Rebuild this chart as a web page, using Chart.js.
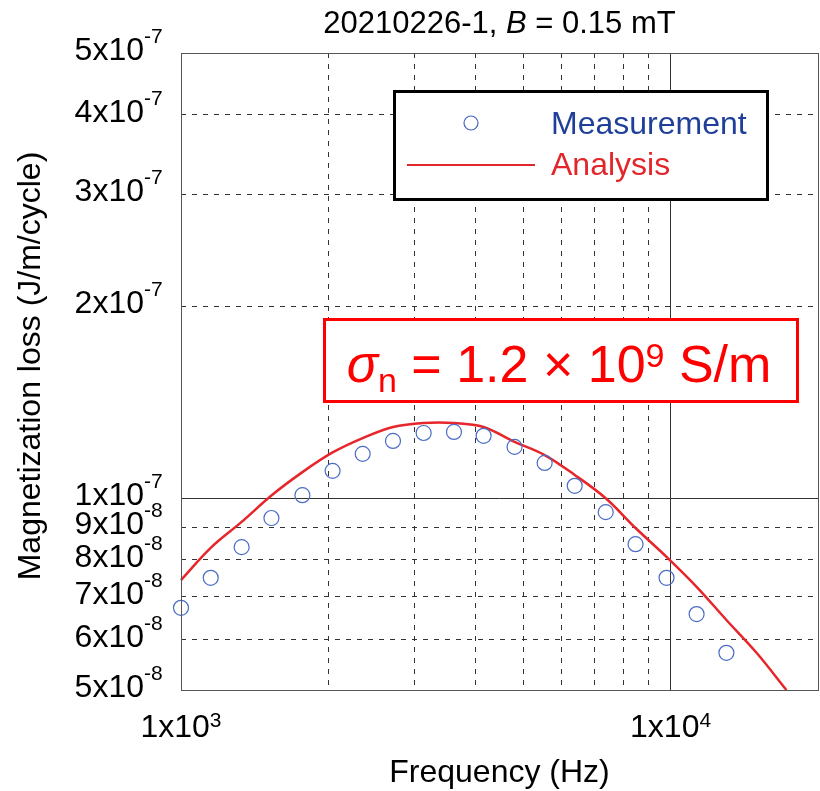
<!DOCTYPE html>
<html>
<head>
<meta charset="utf-8">
<script src="https://cdn.jsdelivr.net/npm/chart.js@4.4.1/dist/chart.umd.min.js"></script>
<style>
  html, body { margin: 0; padding: 0; background: #fff; overflow: hidden; }
  #wrap { width: 820px; height: 791px; }
  canvas { display: block; }
</style>
</head>
<body>
<div id="wrap"><canvas id="lossChart" width="820" height="791"></canvas></div>
<script>
// measured points (Hz, J/m/cycle)
const freqMeas = [1000, 1150, 1330, 1530, 1770, 2040, 2350, 2710, 3130, 3610, 4150, 4800, 5530, 6370, 7370, 8480, 9810, 11300, 13000];
const lossMeas = [6.73e-8, 7.50e-8, 8.38e-8, 9.31e-8, 1.011e-7, 1.104e-7, 1.174e-7, 1.230e-7, 1.266e-7, 1.271e-7, 1.253e-7, 1.204e-7, 1.136e-7, 1.046e-7, 9.51e-8, 8.47e-8, 7.50e-8, 6.58e-8, 5.72e-8];

// analysis curve
const freqAna = [1000, 1150, 1330, 1530, 1770, 2040, 2350, 2710, 3130, 3610, 4150, 4800, 5530, 6370, 7370, 8480, 9810, 11300, 13000, 14980, 17240];
const lossAna = [7.44e-8, 8.36e-8, 9.18e-8, 1.010e-7, 1.099e-7, 1.180e-7, 1.243e-7, 1.294e-7, 1.313e-7, 1.313e-7, 1.294e-7, 1.226e-7, 1.169e-7, 1.088e-7, 1.000e-7, 8.98e-8, 8.09e-8, 7.26e-8, 6.44e-8, 5.72e-8, 5.0e-8];

const xGrid = [1000, 2000, 3000, 4000, 5000, 6000, 7000, 8000, 9000, 10000, 20000];
const yGrid = [5e-8, 6e-8, 7e-8, 8e-8, 9e-8, 1e-7, 2e-7, 3e-7, 4e-7, 5e-7];
const xLabels = [1000, 10000];
const yLabels = [5e-8, 6e-8, 7e-8, 8e-8, 9e-8, 1e-7, 2e-7, 3e-7, 4e-7, 5e-7];

const FONT = '"Liberation Sans", Arial, sans-serif';
const isDecade = (v) => Math.abs(Math.log10(v) - Math.round(Math.log10(v))) < 1e-6;

// "5x10" + "-7"
const expParts = (v) => {
  const e = Math.floor(Math.log10(v) + 1e-9);
  const m = Math.round(v / Math.pow(10, e));
  return [m + "x10", String(e)];
};

// draw a row of text pieces with their own font and vertical shift
const drawRuns = (ctx, runs, x, y, align) => {
  let total = 0;
  runs.forEach((r) => { ctx.font = r.font; r.w = ctx.measureText(r.text).width; total += r.w; });
  let cx = align === "center" ? x - total / 2 : align === "right" ? x - total : x;
  ctx.textAlign = "left";
  runs.forEach((r) => {
    ctx.font = r.font;
    ctx.fillText(r.text, cx, y + (r.dy || 0));
    cx += r.w;
  });
};

const decorations = {
  id: "decorations",
  afterDraw(chart) {
    const ctx = chart.ctx;
    const area = chart.chartArea;
    const xs = chart.scales.x;
    const ys = chart.scales.y;
    ctx.save();

    // plot frame
    ctx.strokeStyle = "#555";
    ctx.lineWidth = 1;
    ctx.strokeRect(area.left + 0.5, area.top + 0.5, area.right - area.left, area.bottom - area.top);

    ctx.fillStyle = "#000";
    ctx.textBaseline = "alphabetic";

    // title
    drawRuns(ctx, [
      { text: "20210226-1, ", font: "31px " + FONT },
      { text: "B", font: "italic 31px " + FONT },
      { text: " = 0.15 mT", font: "31px " + FONT },
    ], (area.left + area.right) / 2, 33, "center");

    // y tick labels
    yLabels.forEach((v) => {
      const py = ys.getPixelForValue(v);
      const [base, sup] = expParts(v);
      ctx.font = "32px " + FONT;
      ctx.textAlign = "right";
      ctx.fillText(base, 144, py + 7);
      ctx.font = "21px " + FONT;
      ctx.textAlign = "left";
      ctx.fillText(sup, 144, py - 10);
    });

    // x tick labels
    xLabels.forEach((v) => {
      const px = xs.getPixelForValue(v);
      const [base, sup] = expParts(v);
      drawRuns(ctx, [
        { text: base, font: "32px " + FONT },
        { text: sup, font: "21px " + FONT, dy: -10 },
      ], px, 737, "center");
    });

    // axis titles
    ctx.font = "32px " + FONT;
    ctx.textAlign = "center";
    ctx.fillText("Frequency (Hz)", (area.left + area.right) / 2, 782);
    ctx.save();
    ctx.translate(40, 366);
    ctx.rotate(-Math.PI / 2);
    ctx.fillText("Magnetization loss (J/m/cycle)", 0, 0);
    ctx.restore();

    // legend
    ctx.fillStyle = "#fff";
    ctx.fillRect(394, 91, 374, 109);
    ctx.strokeStyle = "#000";
    ctx.lineWidth = 3;
    ctx.strokeRect(394.5, 91.5, 373, 108);
    ctx.beginPath();
    ctx.arc(471, 123, 7, 0, Math.PI * 2);
    ctx.strokeStyle = "#4a62c0";
    ctx.lineWidth = 1.2;
    ctx.stroke();
    ctx.beginPath();
    ctx.moveTo(407, 165);
    ctx.lineTo(535, 165);
    ctx.strokeStyle = "#e3262b";
    ctx.lineWidth = 2;
    ctx.stroke();
    ctx.font = "32px " + FONT;
    ctx.textAlign = "left";
    ctx.fillStyle = "#1f3f9a";
    ctx.fillText("Measurement", 551, 134);
    ctx.fillStyle = "#e3262b";
    ctx.fillText("Analysis", 551, 175);

    // conductivity box
    ctx.fillStyle = "#fff";
    ctx.fillRect(323, 318, 476, 85);
    ctx.strokeStyle = "#ff0000";
    ctx.lineWidth = 3;
    ctx.strokeRect(324.5, 319.5, 473, 82);
    ctx.fillStyle = "#ff0000";
    drawRuns(ctx, [
      { text: "\u03C3", font: "italic 52px " + FONT },
      { text: "n", font: "34px " + FONT, dy: 10 },
      { text: " = 1.2 \u00D7 10", font: "52px " + FONT },
      { text: "9", font: "34px " + FONT, dy: -15 },
      { text: " S/m", font: "52px " + FONT },
    ], 559, 382, "center");

    ctx.restore();
  },
};

const gridDash = (ctx) => (ctx.tick && !isDecade(ctx.tick.value) ? [5, 6] : []);

new Chart(document.getElementById("lossChart"), {
  type: "scatter",
  data: {
    datasets: [
      {
        label: "Measurement",
        data: freqMeas.map((f, i) => ({ x: f, y: lossMeas[i] })),
        showLine: false,
        pointStyle: "circle",
        pointRadius: 7.5,
        pointBorderWidth: 1.2,
        pointBorderColor: "#4a6cc4",
        pointBackgroundColor: "rgba(0,0,0,0)",
        clip: false,
      },
      {
        label: "Analysis",
        data: freqAna.map((f, i) => ({ x: f, y: lossAna[i] })),
        showLine: true,
        pointRadius: 0,
        borderColor: "#e6262b",
        borderWidth: 2.5,
        tension: 0.35,
        clip: false,
      },
    ],
  },
  options: {
    responsive: false,
    animation: false,
    devicePixelRatio: 1,
    layout: { autoPadding: false, padding: { top: 53, right: 2, left: 0, bottom: 0 } },
    plugins: { legend: { display: false }, title: { display: false }, tooltip: { enabled: false } },
    scales: {
      x: {
        type: "logarithmic",
        min: 1000,
        max: 20000,
        afterBuildTicks: (s) => { s.ticks = xGrid.map((v) => ({ value: v })); },
        afterFit: (s) => { s.height = 101; },
        ticks: { display: false },
        grid: { drawTicks: false, color: "#333", lineWidth: 1 },
        border: { display: false, dash: gridDash },
      },
      y: {
        type: "logarithmic",
        min: 5e-8,
        max: 5e-7,
        afterBuildTicks: (s) => { s.ticks = yGrid.map((v) => ({ value: v })); },
        afterFit: (s) => { s.width = 181; },
        ticks: { display: false },
        grid: { drawTicks: false, color: "#333", lineWidth: 1 },
        border: { display: false, dash: gridDash },
      },
    },
  },
  plugins: [decorations],
});
</script>
</body>
</html>
